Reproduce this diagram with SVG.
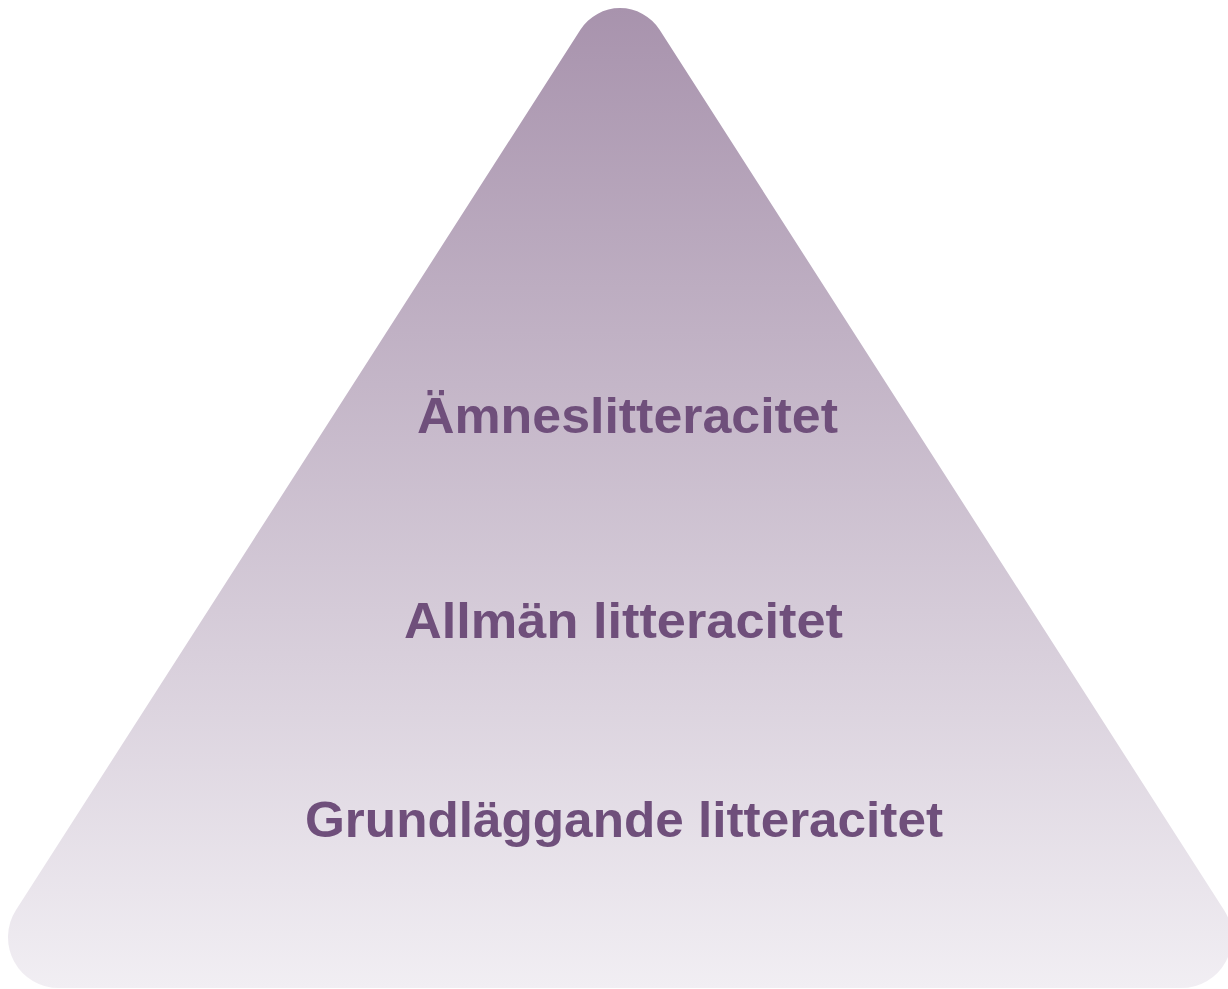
<svg xmlns="http://www.w3.org/2000/svg" width="1228" height="989" viewBox="0 0 1228 989">
  <defs>
    <linearGradient id="pyrFill" gradientUnits="userSpaceOnUse" x1="0" y1="8" x2="0" y2="988">
      <stop offset="0" stop-color="#a893ad"/>
      <stop offset="1" stop-color="#f1eef3"/>
    </linearGradient>
    <style>
      .lbl { font-family: "Liberation Sans", Arial, sans-serif; font-weight: bold; font-size: 50px; fill: #6f4f7b; text-anchor: middle; }
    </style>
  </defs>
  <rect width="1228" height="989" fill="#ffffff"/>
  <g id="pyramid">
    <path d="M 580.4,29.8 A 47 47 0 0 1 659.6,29.8 L 1224,910 A 50.7 50.7 0 0 1 1181.3,988 L 58.7,988 A 50.7 50.7 0 0 1 16,910 Z" fill="url(#pyrFill)"/>
  </g>
  <g id="connectors"/>
  <g id="level-top">
    <text class="lbl" x="627.5" y="433" textLength="421" lengthAdjust="spacingAndGlyphs">Ämneslitteracitet</text>
  </g>
  <g id="level-middle">
    <text class="lbl" x="623.5" y="638" textLength="439" lengthAdjust="spacingAndGlyphs">Allmän litteracitet</text>
  </g>
  <g id="level-bottom">
    <text class="lbl" x="624" y="837" textLength="638" lengthAdjust="spacingAndGlyphs">Grundläggande litteracitet</text>
  </g>
</svg>
